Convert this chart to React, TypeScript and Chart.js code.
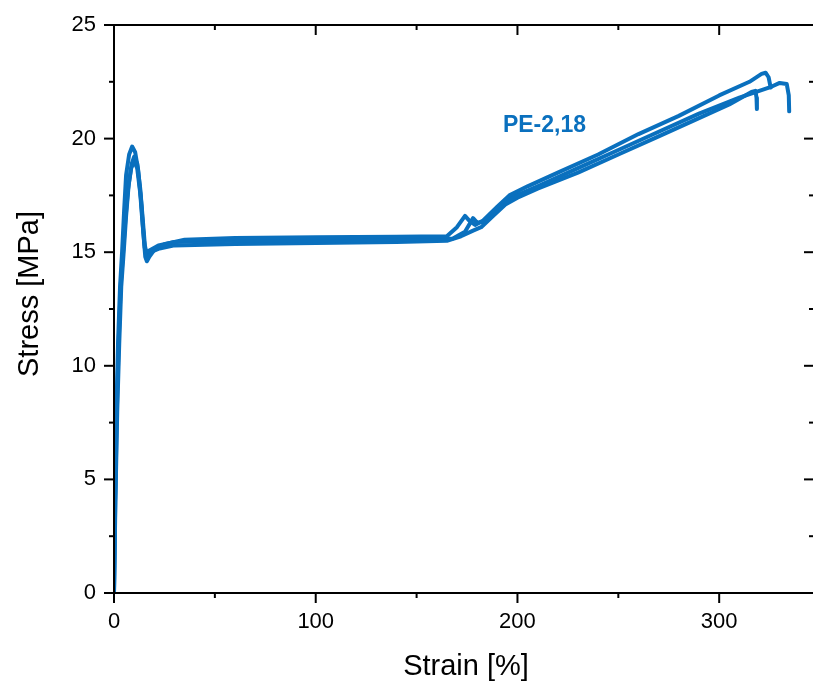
import React, { useEffect, useRef } from 'react';
import { Chart, registerables } from 'chart.js';

Chart.register(...registerables);

const X_LABEL = 'Strain [%]';
const Y_LABEL = 'Stress [MPa]';
const SERIES_NAME = 'PE-2,18';
const LINE_COLOR = '#0A70BE';
const FONT = "'Liberation Sans', Arial, Helvetica, sans-serif";

const X_MIN = 0;
const X_MAX = 347;
const Y_MIN = 0;
const Y_MAX = 25;
const X_MAJOR_TICKS = [0, 100, 200, 300];
const X_MINOR_TICKS = [50, 150, 250];
const Y_MAJOR_TICKS = [0, 5, 10, 15, 20, 25];
const Y_MINOR_TICKS = [2.5, 7.5, 12.5, 17.5, 22.5];

// label anchor (data coords)
const LABEL_AT = { x: 192.8, y: 20.3 };

// Specimen A
const strainA = [0, 0.5, 1.2, 2, 3, 4, 5, 6, 7.5, 9, 10.5, 12, 13.5, 14.6, 15.5, 16.3, 17.5, 20, 25, 35, 60, 100, 140, 165, 170, 174, 176, 179, 183, 190, 196, 205, 220, 240, 260, 280, 300, 315, 321, 323, 324.5, 325.5];
const stressA = [0, 4, 8, 11, 13.5, 15, 16.8, 18.4, 19.3, 19.65, 19.4, 18.6, 17.2, 15.8, 14.8, 14.6, 14.8, 15.1, 15.35, 15.55, 15.62, 15.66, 15.68, 15.7, 16.1, 16.6, 16.4, 16.2, 16.4, 17.0, 17.5, 17.9, 18.5, 19.3, 20.2, 21.0, 21.9, 22.5, 22.85, 22.9, 22.7, 22.25];

// Specimen B
const strainB = [0, 0.6, 1.4, 2.3, 3.3, 4.5, 5.7, 7, 8.5, 10, 11.5, 13, 14.2, 15.2, 16, 18, 22, 30, 60, 100, 140, 168, 174, 178, 180, 184, 190, 197, 210, 230, 250, 270, 290, 310, 325, 330, 333.5, 334.5, 334.7];
const stressB = [0, 4, 8, 11, 13.5, 15, 16.5, 17.8, 18.7, 19.0, 18.7, 17.6, 16.2, 15.2, 15.0, 15.1, 15.3, 15.45, 15.5, 15.52, 15.55, 15.6, 15.9, 16.5, 16.3, 16.35, 16.9, 17.4, 17.9, 18.7, 19.5, 20.3, 21.1, 21.8, 22.25, 22.45, 22.4, 21.9, 21.2];

// Specimen C
const strainC = [0, 0.7, 1.6, 2.6, 3.6, 4.8, 6, 7.3, 8.8, 10, 11.5, 13, 14.3, 15.3, 16.2, 18, 22, 30, 60, 100, 140, 165, 172, 178, 182, 188, 194, 200, 210, 230, 250, 270, 290, 305, 316, 318, 318.5, 318.7];
const stressC = [0, 4, 8, 11, 13.5, 15, 16.6, 18, 18.9, 19.2, 18.9, 17.8, 16.4, 15.3, 14.9, 15.0, 15.15, 15.3, 15.36, 15.4, 15.45, 15.5, 15.7, 15.95, 16.1, 16.6, 17.1, 17.4, 17.8, 18.5, 19.3, 20.1, 20.9, 21.5, 22.05, 22.1, 21.8, 21.3];

const CANVAS_W = 830;
const CANVAS_H = 681;

function toPoints(xs: number[], ys: number[]) {
  return xs.map((x, i) => ({ x, y: ys[i] }));
}

const framePlugin = {
  id: 'originFrame',
  afterDraw(chart: any) {
    const { ctx, chartArea } = chart;
    const { left, right, top, bottom } = chartArea;
    const xs = chart.scales.x;
    const ys = chart.scales.y;
    ctx.save();
    ctx.strokeStyle = '#000';
    ctx.lineWidth = 2;
    ctx.lineCap = 'butt';
    ctx.beginPath();
    ctx.rect(left, top, right - left, bottom - top);
    ctx.stroke();
    const tick = (x1: number, y1: number, x2: number, y2: number) => {
      ctx.beginPath();
      ctx.moveTo(x1, y1);
      ctx.lineTo(x2, y2);
      ctx.stroke();
    };
    X_MAJOR_TICKS.forEach((v) => {
      const p = xs.getPixelForValue(v);
      tick(p, bottom, p, bottom + 10);
      tick(p, top, p, top + 10);
    });
    X_MINOR_TICKS.forEach((v) => {
      const p = xs.getPixelForValue(v);
      tick(p, bottom, p, bottom + 5);
      tick(p, top, p, top + 5);
    });
    Y_MAJOR_TICKS.forEach((v) => {
      const p = ys.getPixelForValue(v);
      tick(left - 10, p, left, p);
      tick(right - 10, p, right, p);
    });
    Y_MINOR_TICKS.forEach((v) => {
      const p = ys.getPixelForValue(v);
      tick(left - 5, p, left, p);
      tick(right - 5, p, right, p);
    });

    // series label
    ctx.fillStyle = LINE_COLOR;
    ctx.font = `bold 23px ${FONT}`;
    ctx.textAlign = 'left';
    ctx.textBaseline = 'alphabetic';
    ctx.fillText(SERIES_NAME, xs.getPixelForValue(LABEL_AT.x), ys.getPixelForValue(LABEL_AT.y));

    // axis titles
    ctx.fillStyle = '#000';
    ctx.font = `29px ${FONT}`;
    ctx.textAlign = 'center';
    ctx.fillText(X_LABEL, (left + right) / 2 + 2, CANVAS_H - 6);
    ctx.translate(38, (top + bottom) / 2 - 15);
    ctx.rotate(-Math.PI / 2);
    ctx.fillText(Y_LABEL, 0, 0);
    ctx.restore();
  },
};

export default function App() {
  const ref = useRef<HTMLCanvasElement | null>(null);
  useEffect(() => {
    if (!ref.current) return;
    const ds = (xs: number[], ys: number[], label: string) => ({
      label,
      data: toPoints(xs, ys),
      showLine: true,
      borderColor: LINE_COLOR,
      backgroundColor: LINE_COLOR,
      borderWidth: 4,
      borderJoinStyle: 'round',
      borderCapStyle: 'round',
      pointRadius: 0,
      tension: 0,
      fill: false,
    });
    const chart = new Chart(ref.current, {
      type: 'scatter',
      data: {
        datasets: [
          ds(strainA, stressA, 'A'),
          ds(strainB, stressB, 'B'),
          ds(strainC, stressC, 'C'),
        ],
      },
      options: {
        animation: false,
        responsive: false,
        events: [],
        layout: { padding: { top: 25, right: CANVAS_W - 814, left: 0, bottom: 0 } },
        plugins: { legend: { display: false }, tooltip: { enabled: false } },
        scales: {
          x: {
            type: 'linear',
            min: X_MIN,
            max: X_MAX,
            border: { display: false },
            grid: { display: false, drawTicks: false },
            title: { display: false },
            ticks: {
              stepSize: 100,
              includeBounds: false,
              padding: 16,
              color: '#000',
              maxRotation: 0,
              autoSkip: false,
              font: { family: FONT, size: 22 },
              callback: (v: any) => (Number(v) % 100 === 0 ? String(v) : ''),
            },
            afterFit: (s: any) => {
              s.height = 88;
              s.paddingLeft = 0;
              s.paddingRight = 0;
            },
          },
          y: {
            type: 'linear',
            min: Y_MIN,
            max: Y_MAX,
            border: { display: false },
            grid: { display: false, drawTicks: false },
            title: { display: false },
            ticks: {
              stepSize: 5,
              padding: 18,
              color: '#000',
              font: { family: FONT, size: 22 },
            },
            afterFit: (s: any) => {
              s.width = 114;
              s.paddingTop = 0;
              s.paddingBottom = 0;
            },
          },
        },
      } as any,
      plugins: [framePlugin],
    });
    return () => chart.destroy();
  }, []);
  return (
    <div
      style={{
        position: 'fixed',
        left: 0,
        top: 0,
        width: 813,
        height: 681,
        overflow: 'hidden',
        background: '#fff',
      }}
    >
      <canvas ref={ref} width={CANVAS_W} height={CANVAS_H} style={{ width: CANVAS_W, height: CANVAS_H, display: 'block' }} />
    </div>
  );
}
